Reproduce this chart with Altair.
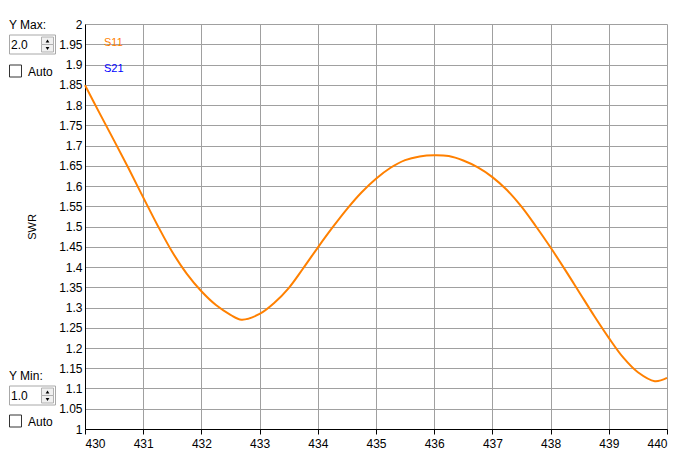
import altair as alt
import pandas as pd

# Frequency (MHz) and SWR values
freq = [430, 430.25, 430.5, 430.75, 431, 431.25, 431.5, 431.75, 432, 432.25,
        432.5, 432.69, 433, 433.25, 433.5, 433.75, 434, 434.25, 434.5, 434.75,
        435, 435.25, 435.5, 435.75, 436, 436.25, 436.5, 436.75, 437, 437.25,
        437.5, 437.75, 438, 438.25, 438.5, 438.75, 439, 439.25, 439.5, 439.79, 440]
swr = [1.849, 1.78, 1.712, 1.643, 1.572, 1.502, 1.437, 1.383, 1.340, 1.306,
       1.282, 1.270, 1.284, 1.311, 1.348, 1.397, 1.448, 1.497, 1.543, 1.584,
       1.618, 1.645, 1.664, 1.673, 1.676, 1.674, 1.663, 1.646, 1.622, 1.590,
       1.549, 1.500, 1.448, 1.393, 1.336, 1.279, 1.225, 1.176, 1.140, 1.118, 1.126]

x_ticks = list(range(430, 441))
y_ticks = [1.0, 1.05, 1.1, 1.15, 1.2, 1.25, 1.3, 1.35, 1.4, 1.45, 1.5,
           1.55, 1.6, 1.65, 1.7, 1.75, 1.8, 1.85, 1.9, 1.95, 2.0]

legend_labels = ["S11", "S21"]
legend_colors = ["#FF8000", "#0000FF"]

FONT = "Liberation Sans"
W, H = 582, 405

df = pd.DataFrame({"freq": freq, "swr": swr})
one = pd.DataFrame({"k": [0]})

line = alt.Chart(df).mark_line(color="#FF8000", strokeWidth=2, interpolate="catmull-rom").encode(
    x=alt.X("freq:Q", scale=alt.Scale(domain=[430, 440], nice=False),
            axis=alt.Axis(values=x_ticks, format="d", title=None, grid=True,
                          gridColor="#A0A0A0", gridWidth=1, domainColor="#000000",
                          tickColor="#000000", tickSize=5, labelPadding=4,
                          labelFont=FONT, labelFontSize=12, labelColor="#000000")),
    y=alt.Y("swr:Q", scale=alt.Scale(domain=[1, 2], nice=False, zero=False),
            axis=alt.Axis(values=y_ticks, format=".2~f", title=None, grid=True,
                          gridColor="#A0A0A0", gridWidth=1, domainColor="#000000",
                          ticks=False, labelPadding=3, labelFont=FONT,
                          labelFontSize=12, labelColor="#000000")),
)

layers = [line]


def text(t, x, y, size=12, color="#000000", align="left", angle=0):
    return alt.Chart(one).mark_text(text=t, font=FONT, fontSize=size, color=color,
                                    align=align, baseline="middle", angle=angle).encode(
        x=alt.value(x), y=alt.value(y))


def rect(x, y, w, h, fill, stroke):
    return alt.Chart(one).mark_rect(fill=fill, stroke=stroke, strokeWidth=1).encode(
        x=alt.value(x), x2=alt.value(x + w), y=alt.value(y), y2=alt.value(y + h))


def tri(x, y, shape):
    return alt.Chart(one).mark_point(shape=shape, filled=True, color="#000000",
                                     size=14, opacity=1).encode(
        x=alt.value(x), y=alt.value(y))


# legend texts inside plot
layers.append(text(legend_labels[0], 19, 19, size=11, color=legend_colors[0]))
layers.append(text(legend_labels[1], 19, 45, size=11, color=legend_colors[1]))

# y axis title
layers.append(text("SWR", -52, 203, size=11, align="center", angle=270))

ox, oy = 85, 24  # plot origin in page coords
L = 9            # left edge of the controls (page can not draw left of 8px)


def control(label, value, label_y, box_y, chk_y):
    out = []
    out.append(text(label, L - ox, label_y - oy))
    out.append(rect(L + 0.5 - ox, box_y - oy, 46, 19, "#FFFFFF", "#A8A8A8"))
    out.append(text(value, L + 2 - ox, box_y + 10 - oy))
    out.append(rect(L + 32.5 - ox, box_y + 2 - oy, 12, 7.5, "#F0F0F0", "#B0B0B0"))
    out.append(rect(L + 32.5 - ox, box_y + 9.5 - oy, 12, 7.5, "#F0F0F0", "#B0B0B0"))
    out.append(tri(L + 38.5 - ox, box_y + 6 - oy, "triangle-up"))
    out.append(tri(L + 38.5 - ox, box_y + 13.5 - oy, "triangle-down"))
    out.append(rect(L + 0.5 - ox, chk_y - oy, 12, 12, "#FFFFFF", "#333333"))
    out.append(text("Auto", L + 19 - ox, chk_y + 6.5 - oy))
    return out


layers += control("Y Max:", "2.0", 25, 35, 65)
layers += control("Y Min:", "1.0", 376, 386, 415)

chart = alt.layer(*layers).properties(
    width=W, height=H,
    autosize=alt.AutoSizeParams(type="none"),
    padding={"left": 77, "top": 16, "right": 12, "bottom": 20},
    background="#FFFFFF",
).configure_view(stroke="transparent")

chart.save("out.html", embed_options={"renderer": "svg", "actions": False})
